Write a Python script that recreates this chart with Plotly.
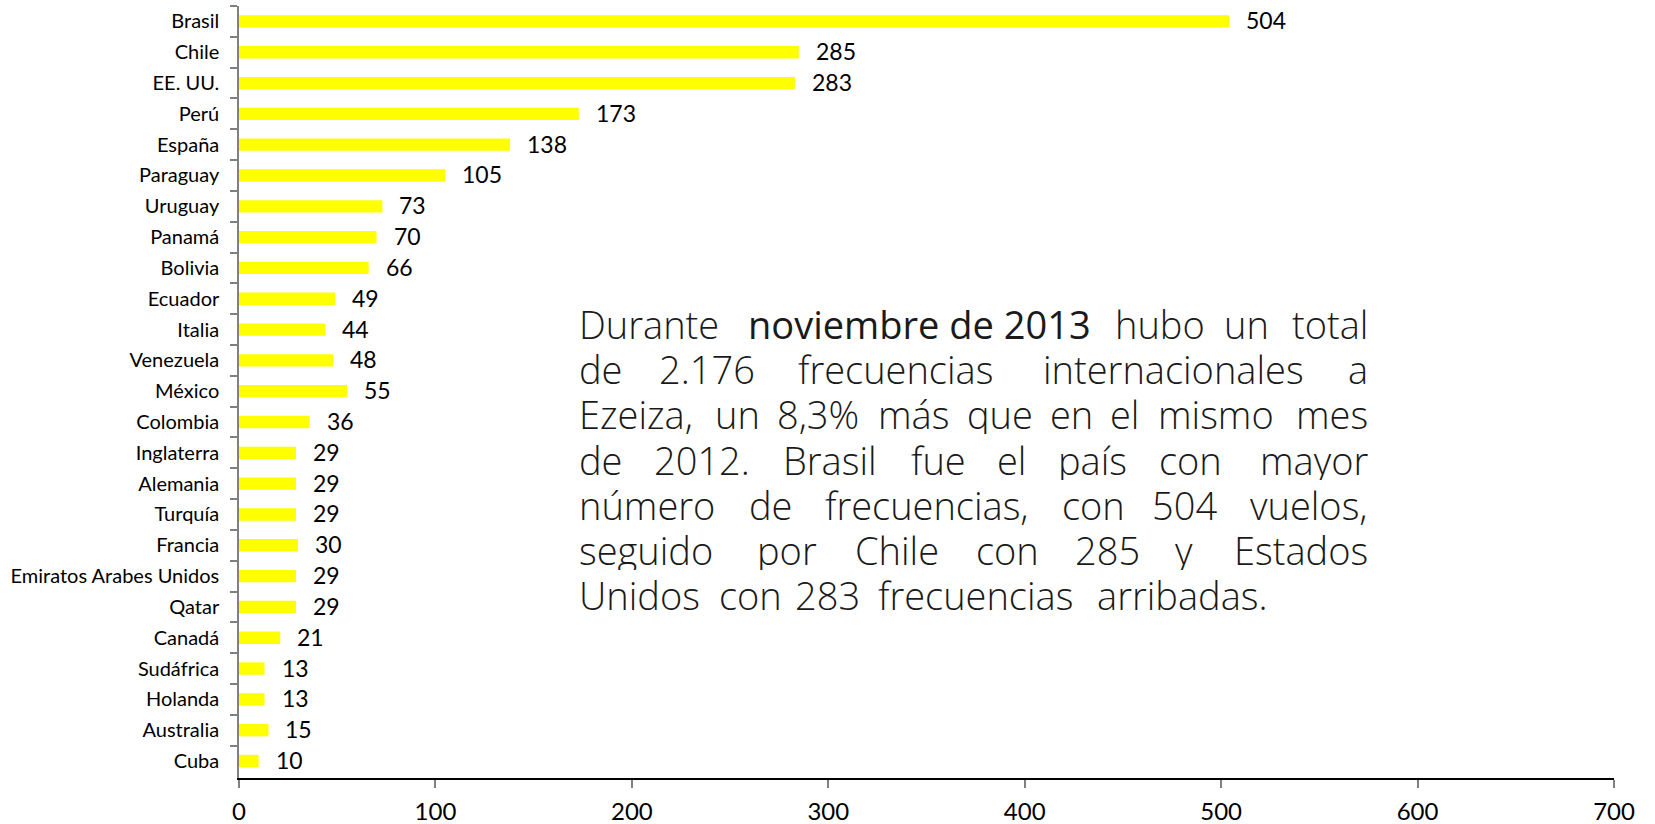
import plotly.graph_objects as go

countries = ["Brasil", "Chile", "EE. UU.", "Perú", "España", "Paraguay", "Uruguay", "Panamá",
             "Bolivia", "Ecuador", "Italia", "Venezuela", "México", "Colombia", "Inglaterra",
             "Alemania", "Turquía", "Francia", "Emiratos Arabes Unidos", "Qatar", "Canadá",
             "Sudáfrica", "Holanda", "Australia", "Cuba"]
values = [504, 285, 283, 173, 138, 105, 73, 70, 66, 49, 44, 48, 55, 36, 29, 29, 29, 30, 29, 29,
          21, 13, 13, 15, 10]
x_ticks = [0, 100, 200, 300, 400, 500, 600, 700]

# Paragraph, one list per printed line (last line is not justified)
text_lines = [
    ["Durante", "noviembre de 2013", "hubo", "un", "total"],
    ["de", "2.176", "frecuencias", "internacionales", "a"],
    ["Ezeiza,", "un", "8,3%", "más", "que", "en", "el", "mismo", "mes"],
    ["de", "2012.", "Brasil", "fue", "el", "país", "con", "mayor"],
    ["número", "de", "frecuencias,", "con", "504", "vuelos,"],
    ["seguido", "por", "Chile", "con", "285", "y", "Estados"],
    ["Unidos", "con", "283", "frecuencias", "arribadas."],
]
bold_words = {"noviembre de 2013"}

W, H = 1655, 824
ML, MR, MT, MB = 239, 41, 6, 46
PW, PH = W - ML - MR, H - MT - MB

# approximate advance widths (em) used only to space the justified words
CW = {' ': .26, 'a': .556, 'á': .556, 'b': .613, 'c': .476, 'd': .613, 'e': .561, 'f': .339,
      'g': .548, 'h': .614, 'i': .253, 'í': .253, 'j': .253, 'k': .525, 'l': .253, 'm': .93,
      'n': .614, 'o': .604, 'p': .613, 'q': .613, 'r': .408, 's': .477, 't': .353, 'u': .614,
      'ú': .614, 'v': .501, 'w': .778, 'x': .524, 'y': .502, 'z': .477, ',': .24, '.': .266,
      '%': .823, 'B': .635, 'C': .632, 'D': .712, 'E': .556, 'U': .728}


def wwidth(w):
    return sum(CW.get(ch, .572) for ch in w)


EM_PX = 39.2           # horizontal scale of the original typeface
TX0, TX1 = 578, 1369   # paragraph left / right edge (px)
line_y_px = [324, 369, 414, 460, 505, 550, 595]
TFONT = dict(family="Open Sans", size=38, color="#1a1a1a", weight=300)

fig = go.Figure()
fig.add_trace(go.Bar(
    x=values, y=countries, orientation="h",
    marker=dict(color="#FFFF00", line=dict(width=0)),
    width=0.4, hoverinfo="x+y",
))

annotations = []
for c, v in zip(countries, values):
    annotations.append(dict(
        x=v, y=c, xref="x", yref="y", text=str(v), showarrow=False,
        xanchor="left", yanchor="middle", xshift=15, yshift=1,
        font=dict(family="Lato, sans-serif", size=23, color="#000000"),
    ))

for li, (words, ly) in enumerate(zip(text_lines, line_y_px)):
    widths = [wwidth(w) * EM_PX for w in words]
    last = li == len(text_lines) - 1
    if last:
        gap = CW[' '] * EM_PX
    else:
        gap = (TX1 - TX0 - sum(widths)) / (len(words) - 1)
    xl = TX0
    yp = (H - MB - ly) / PH
    n = len(words)
    for i, (w, wd) in enumerate(zip(words, widths)):
        if i == 0:
            px, anc = TX0, "left"
        elif i == n - 1 and not last:
            px, anc = TX1, "right"
        else:
            px, anc = xl + wd / 2, "center"
        f = dict(TFONT)
        if w in bold_words:
            f["weight"] = 500
        annotations.append(dict(
            x=(px - ML) / PW, y=yp, xref="paper", yref="paper", text=w,
            showarrow=False, xanchor=anc, yanchor="middle", font=f,
            borderpad=0, height=40,
        ))
        xl += wd + gap

fig.update_layout(
    width=W, height=H,
    margin=dict(l=ML, r=MR, t=MT, b=MB, autoexpand=False),
    paper_bgcolor="white", plot_bgcolor="white",
    showlegend=False,
    annotations=annotations,
    xaxis=dict(
        range=[0, 700], tickvals=x_ticks, ticktext=[str(t) for t in x_ticks],
        showgrid=False, zeroline=False, automargin=False,
        showline=True, linecolor="#000000", linewidth=1.5,
        ticks="outside", ticklen=8, tickcolor="#808080", tickwidth=1.5,
        tickfont=dict(family="Lato, sans-serif", size=24, color="#000000"),
        ticklabelstandoff=3,
    ),
    yaxis=dict(
        categoryorder="array", categoryarray=countries, autorange="reversed",
        showgrid=False, zeroline=False, automargin=False,
        showline=True, linecolor="#808080", linewidth=1.5,
        ticks="outside", ticklen=7, tickcolor="#808080", tickwidth=1.5,
        tickson="boundaries",
        tickfont=dict(family="Lato, sans-serif", size=20, color="#000000"),
        ticklabelstandoff=14,
    ),
)

fig.write_html("out.html", config={"displayModeBar": False},
               post_script="document.body.style.margin='0';document.body.style.overflow='hidden';")
